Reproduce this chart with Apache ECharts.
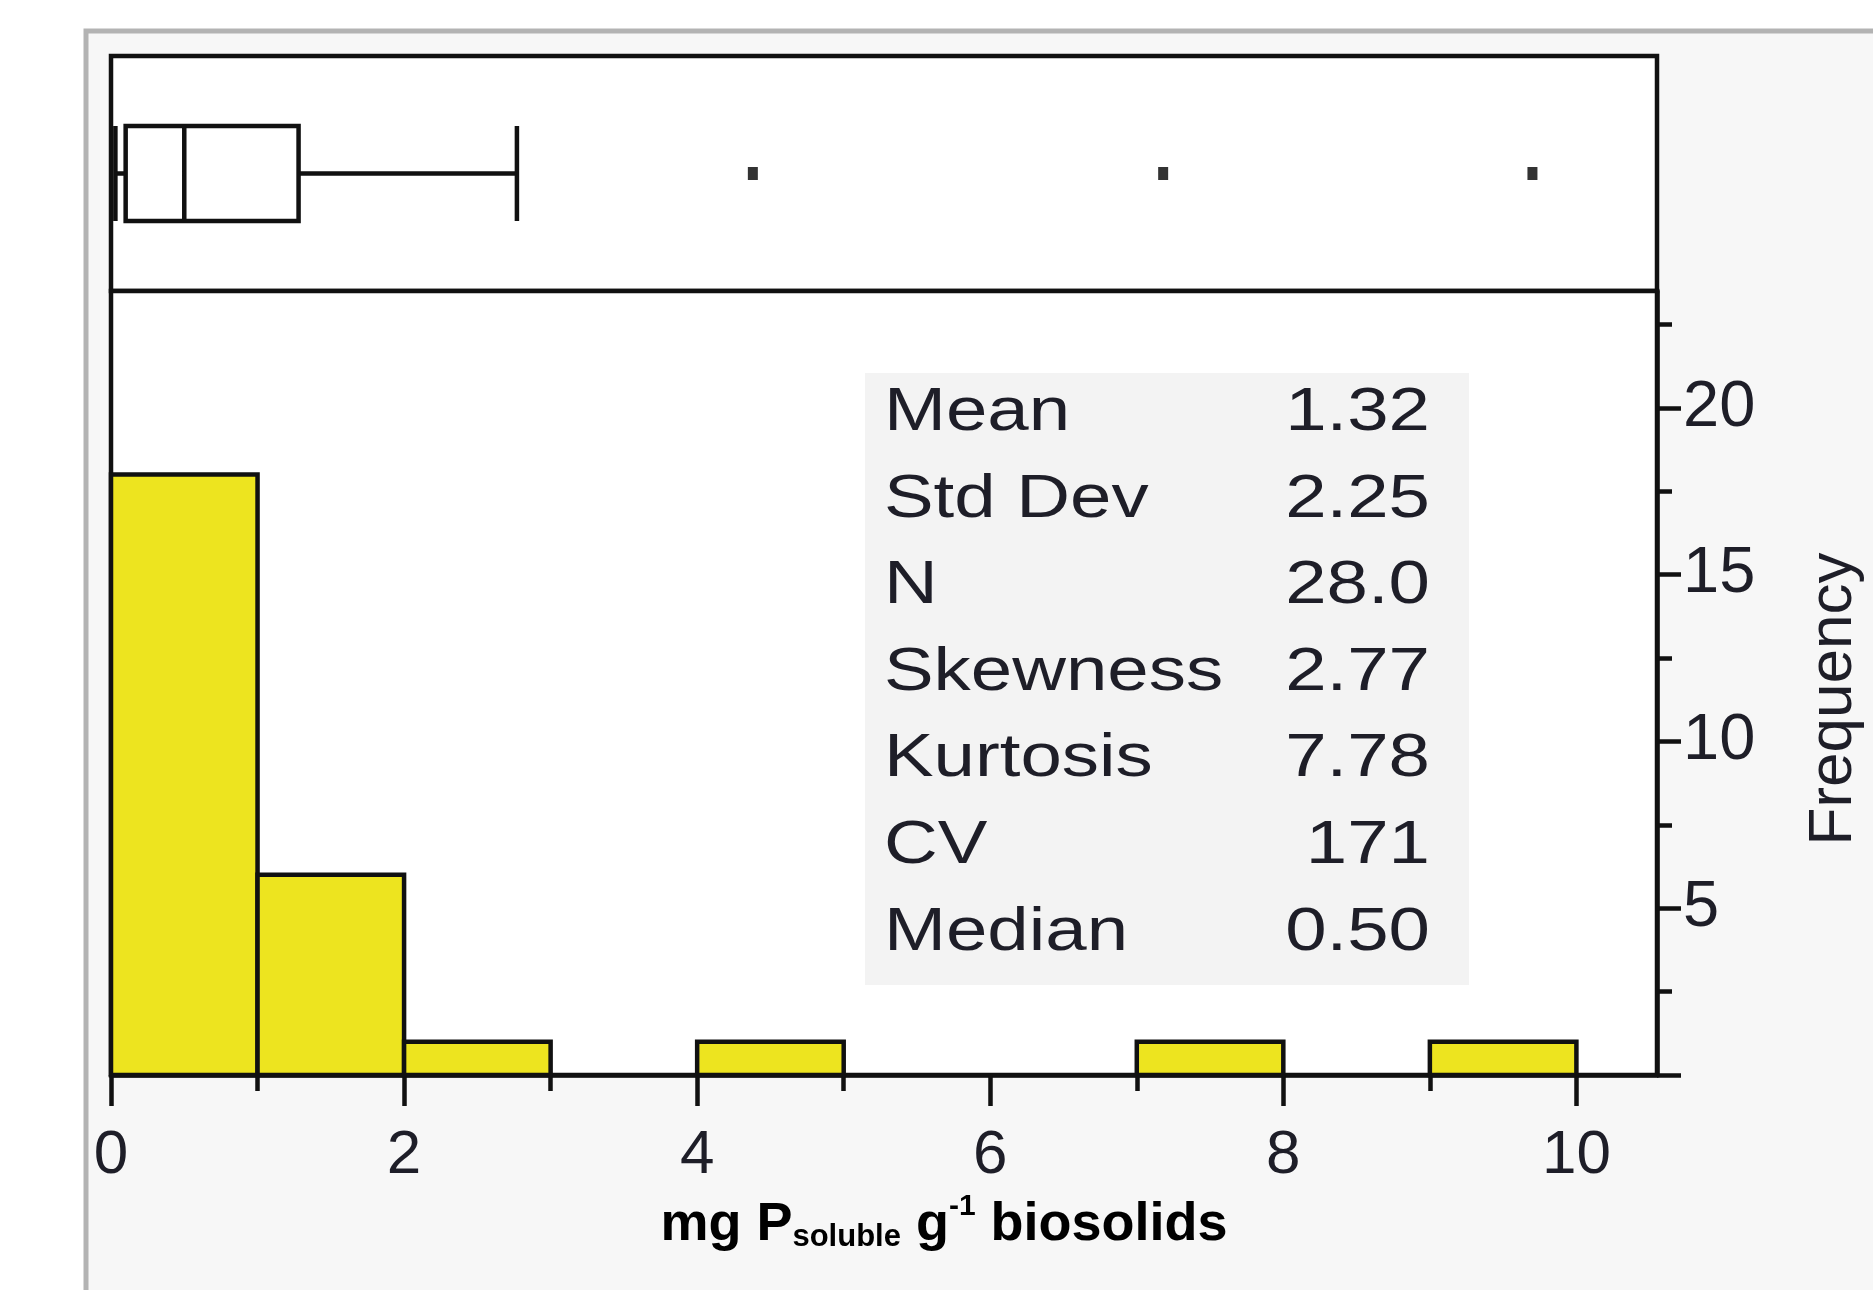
<!DOCTYPE html>
<html>
<head>
<meta charset="utf-8">
<title>Soluble P in biosolids</title>
<script src="https://cdn.jsdelivr.net/npm/echarts@6/dist/echarts.min.js"></script>
<style>
  html, body { margin: 0; padding: 0; background: #ffffff; }
  #chart { width: 1873px; height: 1290px; }
</style>
</head>
<body>
<div id="chart"></div>
<script>
// Histogram bins (mg P g-1) and their counts
const binStarts = [0, 1, 2, 4, 7, 9];
const binEnds   = [1, 2, 3, 5, 8, 10];
const binCounts = [18, 6, 1, 1, 1, 1];

// Box plot summary: [min, Q1, median, Q3, upper whisker]
const boxSummary = [0.03, 0.10, 0.50, 1.28, 2.77];
// Outlying observations
const outliers = [4.38, 7.18, 9.70];

// Summary statistics table
const statLabels = ['Mean', 'Std Dev', 'N', 'Skewness', 'Kurtosis', 'CV', 'Median'];
const statValues = ['1.32', '2.25', '28.0', '2.77', '7.78', '171', '0.50'];

// Axis ticks and labels
const xMajorTicks = [0, 2, 4, 6, 8, 10];
const xMinorTicks = [1, 3, 5, 7, 9];
const yMajorTicks = [0, 5, 10, 15, 20];
const yLabelTicks = [5, 10, 15, 20];
const yMinorTicks = [2.5, 7.5, 12.5, 17.5, 22.5];

const X_MAX = 10.55;
const Y_MAX = 23.5;

const INK = '#111111';
const TEXT = '#1e1e28';
const BAR_FILL = '#ede41f';
const LW = 4.5;
const FONT = "'Liberation Sans', Arial, sans-serif";

const chart = echarts.init(document.getElementById('chart'), null, { renderer: 'canvas' });

const histData = binStarts.map((s, i) => [s, binEnds[i], binCounts[i]]);

// stats table text elements (drawn slightly widened)
const statTop = 413, statStep = 86.6;
const statElements = [];
statLabels.forEach((lab, i) => {
  statElements.push({
    type: 'text', x: 884, y: statTop + i * statStep, z: 10, scaleX: 1.2,
    style: { text: lab, fill: TEXT, font: '62px ' + FONT, textAlign: 'left', textVerticalAlign: 'middle' }
  });
  statElements.push({
    type: 'text', x: 1430, y: statTop + i * statStep, z: 10, scaleX: 1.2,
    style: { text: statValues[i], fill: TEXT, font: '62px ' + FONT, textAlign: 'right', textVerticalAlign: 'middle' }
  });
});

const plainAxisLine = { show: true, onZero: false, lineStyle: { color: INK, width: LW } };
const hiddenAxisLine = { show: false, onZero: false };

const option = {
  animation: false,
  backgroundColor: '#ffffff',
  textStyle: { fontFamily: FONT },
  grid: [
    { left: 111, top: 56, width: 1546, height: 235, show: true, backgroundColor: '#ffffff',
      borderColor: INK, borderWidth: LW },
    { left: 111, top: 291, width: 1546, height: 784, show: true, backgroundColor: '#ffffff',
      borderColor: INK, borderWidth: LW }
  ],
  xAxis: [
    { type: 'value', gridIndex: 0, min: 0, max: X_MAX, show: false, axisLine: hiddenAxisLine },
    { type: 'value', gridIndex: 1, min: 0, max: X_MAX, position: 'bottom',
      axisLine: plainAxisLine,
      axisTick: { show: true, customValues: xMajorTicks, length: 31, lineStyle: { color: INK, width: LW } },
      axisLabel: { show: true, customValues: xMajorTicks, margin: 50, color: TEXT,
        fontSize: 62, fontFamily: FONT },
      splitLine: { show: false } },
    { type: 'value', gridIndex: 1, min: 0, max: X_MAX, position: 'bottom',
      axisLine: hiddenAxisLine,
      axisTick: { show: true, customValues: xMinorTicks, length: 16, lineStyle: { color: INK, width: LW } },
      axisLabel: { show: false }, splitLine: { show: false } }
  ],
  yAxis: [
    { type: 'value', gridIndex: 1, min: 0, max: Y_MAX, position: 'right',
      axisLine: plainAxisLine,
      axisTick: { show: true, customValues: yMajorTicks, length: 24, lineStyle: { color: INK, width: LW } },
      axisLabel: { show: true, customValues: yLabelTicks, margin: 26, color: TEXT, fontSize: 65, fontFamily: FONT },
      splitLine: { show: false } },
    { type: 'value', gridIndex: 1, min: 0, max: Y_MAX, position: 'right',
      axisLine: hiddenAxisLine,
      axisTick: { show: true, customValues: yMinorTicks, length: 15, lineStyle: { color: INK, width: LW } },
      axisLabel: { show: false }, splitLine: { show: false } },
    { type: 'category', gridIndex: 0, data: ['P'], show: false, axisLine: hiddenAxisLine }
  ],
  graphic: [
    // framed panel behind the plot
    { type: 'rect', z: -10, shape: { x: 86, y: 31, width: 1900, height: 1400 },
      style: { fill: '#f7f7f7', stroke: '#b3b3b3', lineWidth: 5 } },
    // summary statistics inset
    { type: 'rect', z: 5, shape: { x: 865, y: 373, width: 604, height: 612 },
      style: { fill: '#f3f3f3' } },
    ...statElements,
    { type: 'text', x: 1834, y: 699, rotation: Math.PI / 2, z: 10,
      style: { text: 'Frequency', fill: TEXT, font: '62px ' + FONT, textAlign: 'center', textVerticalAlign: 'middle' } },
    { type: 'text', x: 944, y: 1225, z: 10,
      style: {
        text: '{b|mg P}{sub|soluble}{b| g}{sup|-1}{b| biosolids}',
        textAlign: 'center', textVerticalAlign: 'middle',
        rich: {
          b: { fontSize: 54, fontWeight: 'bold', fontFamily: FONT, fill: '#000', lineHeight: 80, verticalAlign: 'middle' },
          sub: { fontSize: 31, fontWeight: 'bold', fontFamily: FONT, fill: '#000', verticalAlign: 'bottom',
            padding: [0, 0, 12, 0] },
          sup: { fontSize: 30, fontWeight: 'bold', fontFamily: FONT, fill: '#000', verticalAlign: 'top',
            padding: [7, 0, 0, 0] }
        }
      } }
  ],
  series: [
    { type: 'boxplot', xAxisIndex: 0, yAxisIndex: 2, data: [boxSummary], boxWidth: [95, 95],
      itemStyle: { color: '#ffffff', borderColor: INK, borderWidth: LW }, silent: true },
    { type: 'scatter', xAxisIndex: 0, yAxisIndex: 2, data: outliers.map(v => [v, 0]),
      symbol: 'rect', symbolSize: [10, 13], itemStyle: { color: '#000' }, silent: true },
    { type: 'custom', xAxisIndex: 1, yAxisIndex: 0, data: histData,
      encode: { x: [0, 1], y: 2 },
      renderItem: function (params, api) {
        const p0 = api.coord([api.value(0), api.value(2)]);
        const p1 = api.coord([api.value(1), 0]);
        return {
          type: 'rect',
          shape: { x: p0[0], y: p0[1], width: p1[0] - p0[0], height: p1[1] - p0[1] },
          style: { fill: BAR_FILL, stroke: INK, lineWidth: LW }
        };
      },
      silent: true }
  ]
};

chart.setOption(option);
</script>
</body>
</html>
